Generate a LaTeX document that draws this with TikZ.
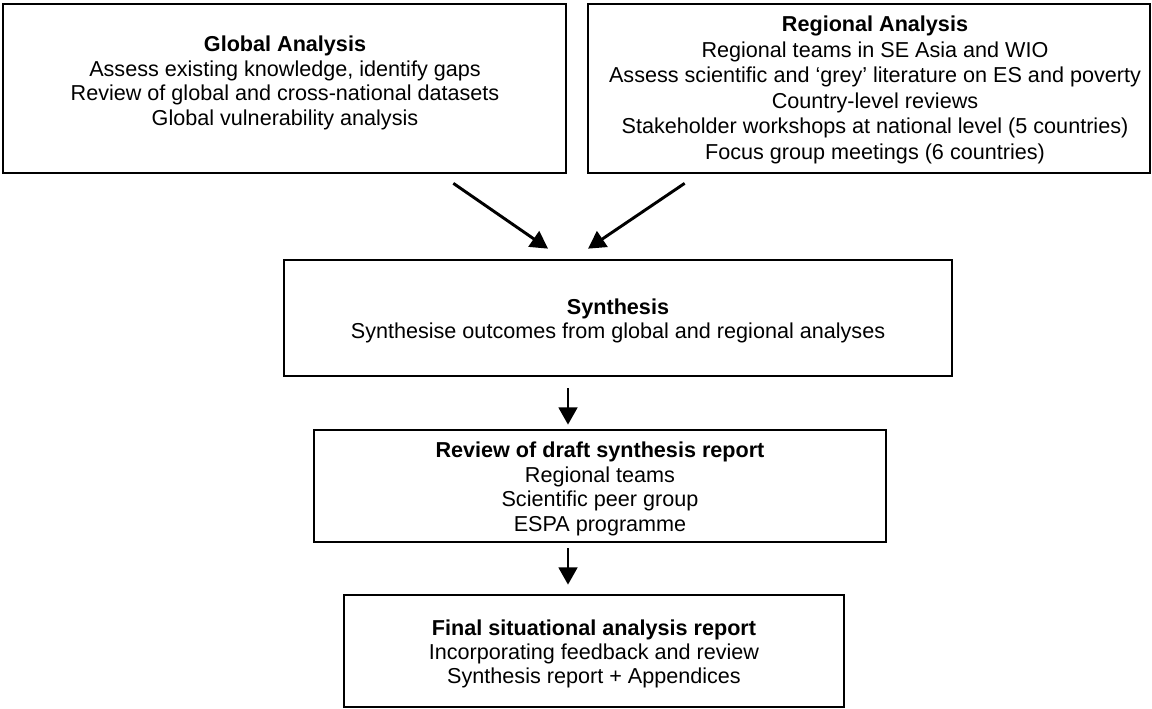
\documentclass[tikz,border=0pt]{standalone}
\usepackage{fontspec}
\setmainfont{Liberation Sans}
\usetikzlibrary{arrows.meta}
\begin{document}
\begin{tikzpicture}[x=0.75pt,y=-0.75pt,
  box/.style={draw=black,line width=2pt,rectangle,inner sep=0pt},
  txt/.style={align=center,font=\fontsize{16.2pt}{18.3pt}\selectfont,inner sep=0pt,anchor=center},
  arr/.style={line width=2.2pt,-{Triangle[length=13pt,width=14pt]}}]
\useasboundingbox (0,0) rectangle (1152,709);
\fill[white] (0,0) rectangle (1152,709);
% boxes
\node[box,minimum width=422.25pt,minimum height=126.75pt] (g) at (284.5,88.5) {};
\node[box,minimum width=421.5pt,minimum height=126.75pt] (ra) at (869,88.5) {};
\node[box,minimum width=501pt,minimum height=87pt] (s) at (618,318) {};
\node[box,minimum width=429pt,minimum height=84pt] (r) at (600,486) {};
\node[box,minimum width=375pt,minimum height=84pt] (f) at (594,651) {};
% texts
\node[txt] (gt) at (285,83) {\textbf{Global Analysis}\\Assess existing knowledge, identify gaps\\Review of global and cross-national datasets\\Global vulnerability analysis};
\node[txt,font=\fontsize{16.2pt}{19.2pt}\selectfont] (rat) at (875,90) {\textbf{Regional Analysis}\\Regional teams in SE Asia and WIO\\Assess scientific and ‘grey’ literature on ES and poverty\\Country-level reviews\\Stakeholder workshops at national level (5 countries)\\Focus group meetings (6 countries)};
\node[txt] (st) at (618,321) {\textbf{Synthesis}\\Synthesise outcomes from global and regional analyses};
\node[txt] (rt) at (600,489) {\textbf{Review of draft synthesis report}\\Regional teams\\Scientific peer group\\ESPA programme};
\node[txt] (ft) at (594,654) {\textbf{Final situational analysis report}\\Incorporating feedback and review\\Synthesis report + Appendices};
% arrows
\draw[arr] ([shift={(-114,9)}]g.south east) -- ([shift={(-70,-10)}]s.north);
\draw[arr] ([shift={(98,9)}]ra.south west) -- ([shift={(-30,-10)}]s.north);
\draw[arr] ([shift={(-50,11)}]s.south) -- ([shift={(-32,-4)}]r.north);
\draw[arr] ([shift={(-32,5)}]r.south) -- ([shift={(-26,-9)}]f.north);
\end{tikzpicture}
\end{document}
